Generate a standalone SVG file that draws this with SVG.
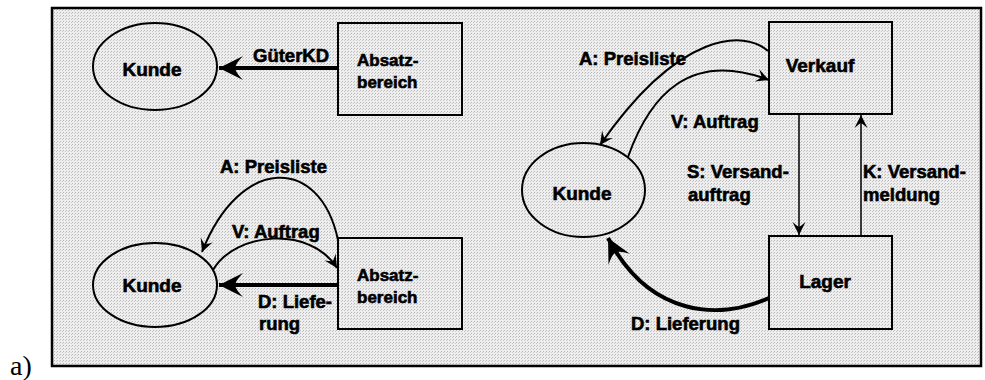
<svg xmlns="http://www.w3.org/2000/svg" width="985" height="380" viewBox="0 0 985 380">
<defs>
<pattern id="halftone" width="3" height="3" patternUnits="userSpaceOnUse">
<rect width="3" height="3" fill="#eeeeee"/>
<rect width="1" height="1" fill="#b8b8b8"/>
<rect x="2" y="1" width="1" height="1" fill="#c8c8c8"/>
</pattern>
<marker id="big" viewBox="-26 -13 27 26" refX="0" refY="0" markerWidth="27" markerHeight="26" orient="auto" markerUnits="userSpaceOnUse">
<path d="M0,0 L-24,-12 Q-17,-5 -16,0 Q-17,5 -24,12 Z" fill="#000"/>
</marker>
<marker id="small" viewBox="-14 -8 15 16" refX="0" refY="0" markerWidth="15" markerHeight="16" orient="auto" markerUnits="userSpaceOnUse">
<path d="M0,0 L-13,-6.5 Q-9,-2 -8,0 Q-9,2 -13,6.5 Z" fill="#000"/>
</marker>
</defs>
<style>
.node{fill:none;stroke:#000;stroke-width:2}
.lbl{font-family:"Liberation Sans",Arial,sans-serif;font-weight:bold;font-size:18.5px;fill:#000;stroke:#000;stroke-width:0.6}
.nt{font-family:"Liberation Sans",Arial,sans-serif;font-weight:bold;font-size:19px;fill:#000;stroke:#000;stroke-width:0.6;text-anchor:middle}
.bt{font-family:"Liberation Sans",Arial,sans-serif;font-weight:bold;font-size:17px;fill:#000;stroke:#000;stroke-width:0.6}
.thin{fill:none;stroke:#000;stroke-width:2;marker-end:url(#small)}
.vert{fill:none;stroke:#000;stroke-width:1.5;marker-end:url(#small)}
.thick{fill:none;stroke:#000;stroke-width:4;marker-end:url(#big)}
</style>
<rect width="985" height="380" fill="#fff"/>
<rect id="frame" x="52" y="8" width="929" height="358" fill="url(#halftone)" stroke="#000" stroke-width="2.5"/>

<g id="kunde1"><ellipse class="node" cx="155" cy="66.5" rx="62" ry="43.5"/><text class="nt" x="152" y="76">Kunde</text></g>
<g id="absatz1"><rect class="node" x="338" y="23" width="124" height="92"/><text class="bt" x="357" y="66">Absatz-</text><text class="bt" x="357" y="88">bereich</text></g>

<g id="kunde2"><ellipse class="node" cx="155" cy="285" rx="62" ry="42"/><text class="nt" x="152" y="292">Kunde</text></g>
<g id="absatz2"><rect class="node" x="338" y="238" width="124" height="91"/><text class="bt" x="357" y="281">Absatz-</text><text class="bt" x="357" y="303">bereich</text></g>

<g id="kunde3"><ellipse class="node" cx="583.5" cy="190" rx="61.5" ry="47"/><text class="nt" x="582" y="200">Kunde</text></g>
<g id="verkauf"><rect class="node" x="769" y="22" width="123" height="92"/><text class="nt" x="820" y="72">Verkauf</text></g>
<g id="lager"><rect class="node" x="769" y="236" width="123" height="93"/><text class="nt" x="825" y="288">Lager</text></g>

<g id="connectors">
<path class="thick" d="M338,68 L219,68"/>
<path class="thin" d="M338,240 C320,155 240,155 202,252"/>
<path class="thin" d="M213,270 C235,232 310,225 337,268"/>
<path class="thick" d="M338,285 L219,285"/>
<path class="thin" d="M768,51 C745,30 680,30 600,145"/>
<path class="thin" d="M628,157 C650,95 690,50 769,80"/>
<path class="vert" d="M799,114 L799,235"/>
<path class="vert" d="M861,236 L861,115"/>
<path class="thick" d="M769,298 C720,320 650,318 608,238"/>
</g>

<g id="labels">
<text class="lbl" x="253" y="62">GüterKD</text>
<text class="lbl" x="220" y="173">A: Preisliste</text>
<text class="lbl" x="232" y="238">V: Auftrag</text>
<text class="lbl" x="258" y="308">D: Liefe-</text>
<text class="lbl" x="259" y="330">rung</text>
<text class="lbl" x="579" y="65">A: Preisliste</text>
<text class="lbl" x="671" y="128">V: Auftrag</text>
<text class="lbl" x="687" y="178">S: Versand-</text>
<text class="lbl" x="688" y="201">auftrag</text>
<text class="lbl" x="863" y="178">K: Versand-</text>
<text class="lbl" x="863" y="201">meldung</text>
<text class="lbl" x="631" y="330">D: Lieferung</text>
</g>
<text x="10" y="375" font-family="'Liberation Serif','Times New Roman',serif" font-size="28" fill="#000">a)</text>
</svg>
